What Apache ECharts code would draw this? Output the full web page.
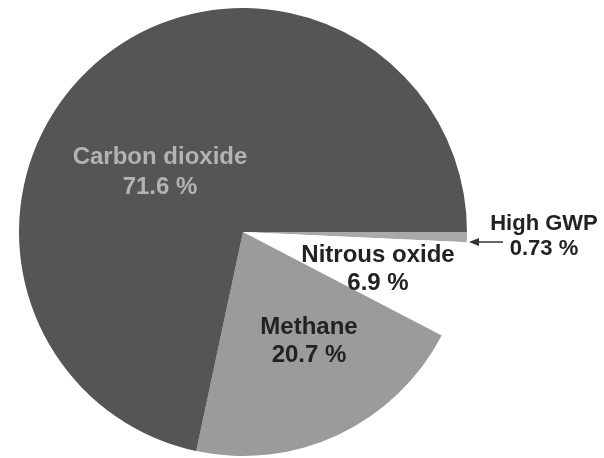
<!DOCTYPE html>
<html>
<head>
<meta charset="utf-8">
<script src="https://cdn.jsdelivr.net/npm/echarts@6/dist/echarts.min.js"></script>
<style>html,body{margin:0;padding:0;background:#fff;}#c{width:604px;height:458px;}</style>
</head>
<body>
<div id="c"></div>
<script>
const categories = ['High GWP', 'Nitrous oxide', 'Methane', 'Carbon dioxide'];
const values = [0.73, 6.9, 20.7, 71.6];
const colors = ['#a9a9a9', '#ffffff', '#9b9b9b', '#555555'];
const labelColors = ['#222222', '#222222', '#222222', '#b3b3b3'];
const labelPos = [[544, 236, 22, 25], [378, 269, 24, 28], [309, 341, 24, 28], [160, 172, 24, 30]];

const chart = echarts.init(document.getElementById('c'), null, {renderer: 'canvas'});
chart.setOption({
  animation: false,
  backgroundColor: '#ffffff',
  series: [{
    type: 'pie',
    center: [243, 232],
    radius: 224,
    startAngle: 0,
    clockwise: true,
    avoidLabelOverlap: false,
    silent: true,
    itemStyle: {borderWidth: 0},
    label: {
      show: true,
      position: 'inside',
      formatter: p => p.name + '\n' + p.value + ' %',
      fontFamily: '"Liberation Sans", Arial, sans-serif',
      fontWeight: 'bold',
      align: 'center'
    },
    labelLine: {show: false},
    labelLayout: function (params) {
      const lp = labelPos[params.dataIndex];
      return {x: lp[0], y: lp[1], align: 'center', verticalAlign: 'middle'};
    },
    data: categories.map((c, i) => ({
      name: c,
      value: values[i],
      itemStyle: {color: colors[i]},
      label: {color: labelColors[i], fontSize: labelPos[i][2], lineHeight: labelPos[i][3]}
    }))
  }],
  graphic: [
    {type: 'line', shape: {x1: 503, y1: 242, x2: 476, y2: 242}, style: {stroke: '#333', lineWidth: 1.5}},
    {type: 'polygon', shape: {points: [[469, 242], [479, 238], [479, 246]]}, style: {fill: '#333'}}
  ]
});
</script>
</body>
</html>
